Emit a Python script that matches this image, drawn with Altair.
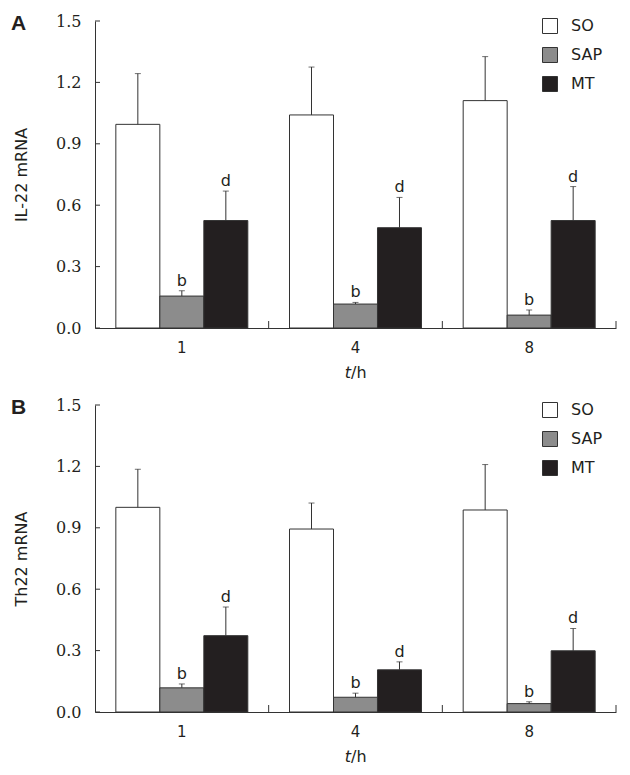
import altair as alt
import pandas as pd

times = ["1", "4", "8"]
groups = ["SO", "SAP", "MT"]
colors = ["#ffffff", "#8c8c8c", "#231f20"]
letters = ["", "b", "d"]

il22_so = [0.995, 1.041, 1.111]
il22_so_sd = [0.248, 0.234, 0.215]
il22_sap = [0.156, 0.117, 0.063]
il22_sap_sd = [0.026, 0.008, 0.025]
il22_mt = [0.525, 0.490, 0.525]
il22_mt_sd = [0.144, 0.148, 0.166]

th22_so = [1.000, 0.894, 0.987]
th22_so_sd = [0.186, 0.127, 0.222]
th22_sap = [0.118, 0.072, 0.041]
th22_sap_sd = [0.019, 0.020, 0.009]
th22_mt = [0.373, 0.206, 0.299]
th22_mt_sd = [0.140, 0.039, 0.109]

y_ticks = [0.0, 0.3, 0.6, 0.9, 1.2, 1.5]
x_bounds = [1, 2, 3]  # category boundaries (end of each time slot)

W, H = 521, 307
PAD_IN, PAD_OUT = 0.24, 0.12
LINE = "#333333"
TXT = "#231f20"


def frame(so, so_sd, sap, sap_sd, mt, mt_sd):
    rows = []
    for g, m, s, lab in zip(groups, [so, sap, mt], [so_sd, sap_sd, mt_sd], letters):
        for t, mv, sv in zip(times, m, s):
            rows.append({"time": t, "group": g, "mean": mv, "top": mv + sv, "letter": lab})
    return pd.DataFrame(rows)


def panel(df, ytitle, tag):
    base = alt.Chart(df)
    xs = alt.Scale(domain=times, paddingInner=PAD_IN, paddingOuter=PAD_OUT)
    xo = alt.XOffset("group:N", sort=groups,
                     scale=alt.Scale(domain=groups, paddingInner=0, paddingOuter=0))
    ys = alt.Scale(domain=[0, 1.5], nice=False, zero=True)

    bars = base.mark_bar(stroke=LINE, strokeWidth=1).encode(
        x=alt.X("time:N", scale=xs, sort=times,
                axis=alt.Axis(title=None, orient="bottom", ticks=False, tickSize=0,
                              labelPadding=12, labelFont="DejaVu Sans", labelFontSize=15,
                              labelColor=TXT, domainColor=LINE, labelAngle=0, grid=False)),
        xOffset=xo,
        y=alt.Y("mean:Q", scale=ys,
                axis=alt.Axis(values=y_ticks, format=".1f", title=ytitle, ticks=False,
                              tickSize=0, labelPadding=14, labelFont="DejaVu Serif",
                              labelFontSize=16, labelColor=TXT, titleFont="DejaVu Sans",
                              titleFontSize=16, titleFontWeight="normal", titleColor=TXT,
                              titleX=-69, titleY=H / 2, titleAngle=270,
                              titleBaseline="alphabetic", titleAlign="center",
                              domainColor=LINE, grid=False)),
        color=alt.Color("group:N", scale=alt.Scale(domain=groups, range=colors),
                        legend=alt.Legend(title=None, orient="none", legendX=447, legendY=-3,
                                          symbolType="square", symbolSize=225,
                                          symbolStrokeColor=LINE, symbolStrokeWidth=1,
                                          labelFont="DejaVu Sans", labelFontSize=16,
                                          labelColor=TXT, rowPadding=9, labelOffset=13)),
    )

    errs = base.mark_rule(color=LINE, strokeWidth=1).encode(
        x=alt.X("time:N", scale=xs, sort=times, axis=None),
        xOffset=xo,
        y=alt.Y("mean:Q", scale=ys, axis=None),
        y2="top:Q",
    )

    caps = base.mark_tick(color=LINE, thickness=1, size=6).encode(
        x=alt.X("time:N", scale=xs, sort=times, axis=None),
        xOffset=xo,
        y=alt.Y("top:Q", scale=ys, axis=None),
    )

    txt = base.mark_text(dy=-5, baseline="alphabetic", font="DejaVu Sans", fontSize=16,
                         color=TXT).encode(
        x=alt.X("time:N", scale=xs, sort=times, axis=None),
        xOffset=xo,
        y=alt.Y("top:Q", scale=ys, axis=None),
        text="letter:N",
    )

    # inward ticks on the y axis
    yt = alt.Chart(pd.DataFrame({"tick": y_ticks})).mark_rule(
        color=LINE, strokeWidth=1).encode(
        y=alt.Y("tick:Q", scale=ys, axis=None),
        x=alt.value(0), x2=alt.value(5))

    # upward ticks at the category boundaries on the x axis
    xt = alt.Chart(pd.DataFrame({"pos": x_bounds})).mark_rule(
        color=LINE, strokeWidth=1).encode(
        x=alt.X("pos:Q", scale=alt.Scale(domain=[0, len(times)], nice=False, zero=True),
                axis=None),
        y=alt.value(H), y2=alt.value(H - 7))

    tagc = alt.Chart(pd.DataFrame({"lab": [tag]})).mark_text(
        align="left", baseline="alphabetic", font="Liberation Sans", fontSize=21,
        fontWeight="bold", color=TXT).encode(
        x=alt.value(-84), y=alt.value(9), text="lab:N")

    t1 = alt.Chart(pd.DataFrame({"lab": ["t"]})).mark_text(
        align="right", baseline="alphabetic", font="DejaVu Sans", fontSize=16,
        fontStyle="italic", color=TXT).encode(
        x=alt.value(256), y=alt.value(H + 50), text="lab:N")
    t2 = alt.Chart(pd.DataFrame({"lab": ["/h"]})).mark_text(
        align="left", baseline="alphabetic", font="DejaVu Sans", fontSize=16,
        color=TXT).encode(
        x=alt.value(256), y=alt.value(H + 50), text="lab:N")

    return alt.layer(bars, errs, caps, txt, yt, xt, tagc, t1, t2).resolve_scale(
        x="independent").resolve_axis(x="independent", y="independent").properties(
        width=W, height=H)


pA = panel(frame(il22_so, il22_so_sd, il22_sap, il22_sap_sd, il22_mt, il22_mt_sd),
           "IL-22 mRNA", "A")
pB = panel(frame(th22_so, th22_so_sd, th22_sap, th22_sap_sd, th22_mt, th22_mt_sd),
           "Th22 mRNA", "B")

chart = alt.vconcat(pA, pB, spacing=16).resolve_scale(color="independent").resolve_legend(
    color="independent").properties(
    padding={"left": 3, "top": 5, "right": 0, "bottom": 0},
    background="white",
).configure_view(stroke=None)

chart.save("out.html", embed_options={"renderer": "svg", "actions": False})
